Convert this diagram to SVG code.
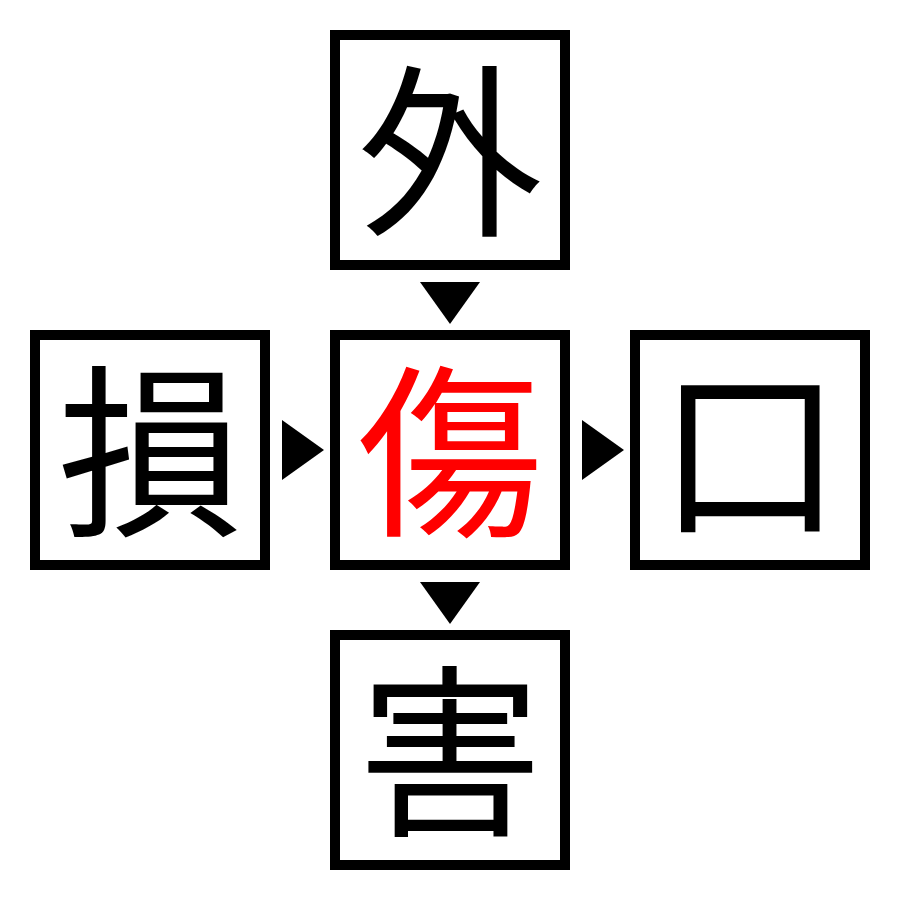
<svg xmlns="http://www.w3.org/2000/svg" width="900" height="900" viewBox="0 0 900 900">
<style>
.box{fill:#fff;stroke:#000;stroke-width:10}
.ch{font-family:"Noto Sans CJK JP","Noto Sans CJK SC",sans-serif;font-size:185px;text-anchor:middle;fill:#000}
.red{fill:#f00}
.arr{fill:#000}
</style>
<rect width="900" height="900" fill="#fff"/>
<g id="node-top"><rect class="box" x="335" y="35" width="230" height="230"/><text class="ch" x="450" y="222">外</text></g>
<g id="node-left"><rect class="box" x="35" y="335" width="230" height="230"/><text class="ch" x="150" y="522">損</text></g>
<g id="node-center"><rect class="box" x="335" y="335" width="230" height="230"/><text class="ch red" x="450" y="522">傷</text></g>
<g id="node-right"><rect class="box" x="635" y="335" width="230" height="230"/><text class="ch" x="750" y="522">口</text></g>
<g id="node-bottom"><rect class="box" x="335" y="635" width="230" height="230"/><text class="ch" x="450" y="822">害</text></g>
<g id="connectors">
<polygon class="arr" points="420,282 480,282 450,324"/>
<polygon class="arr" points="282,420 282,480 324,450"/>
<polygon class="arr" points="582,420 582,480 624,450"/>
<polygon class="arr" points="420,582 480,582 450,624"/>
</g>
</svg>
